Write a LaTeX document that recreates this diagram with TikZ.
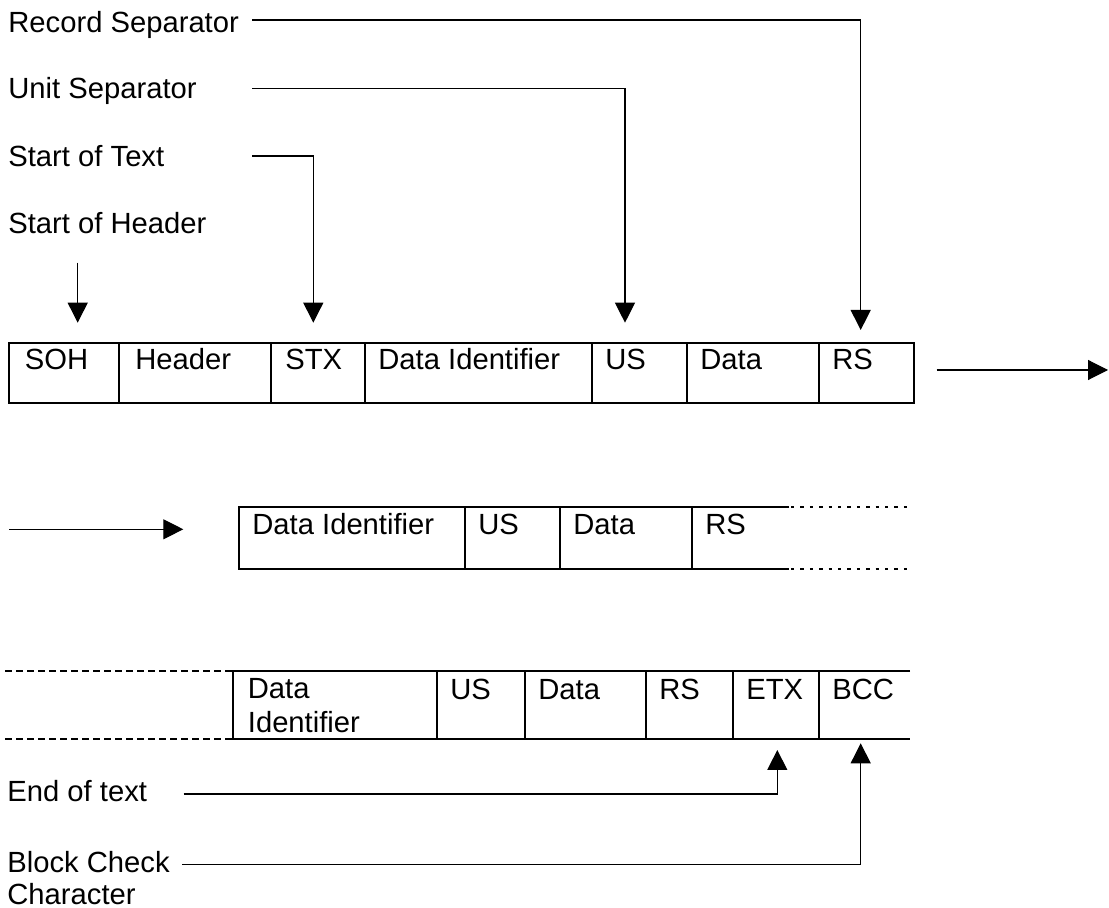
\documentclass[tikz,border=0pt]{standalone}
\usepackage{fontspec}
\setmainfont{Liberation Sans}
\usetikzlibrary{arrows.meta}

\tikzset{
  box/.style={line width=0.9pt},
  arr/.style={line width=0.55pt,-{Triangle[length=10pt,width=10pt]}},
  txt/.style={anchor=base west,inner sep=0pt,font=\fontsize{14.6}{17}\selectfont},
}

\begin{document}
\begin{tikzpicture}[x=0.5pt,y=-0.5pt]
\useasboundingbox (0,0) rectangle (1109,908);

% labels on top
\node[txt] (rsl) at (8,32.3) {Record Separator};
\node[txt] (usl) at (8,99) {Unit Separator};
\node[txt] (stl) at (8,166.7) {Start of Text};
\node[txt] (shl) at (8,233.3) {Start of Header};

% first row
\draw[box] (9.3,342.7) rectangle (914,403.3);
\foreach \x in {119,271,365.3,591.7,686.7,819}
  \draw[box] (\x,342.7) -- (\x,403.3);
\node[txt] (soh) at (24.5,369.3) {SOH};
\node[txt] (hdr) at (135,369.3) {Header};
\node[txt] (stx) at (285,369.3) {STX};
\node[txt] (did1) at (378,369.3) {Data Identifier};
\node[txt] (us1) at (605,369.3) {US};
\node[txt] (dat1) at (700,369.3) {Data};
\node[txt] (rs1) at (832,369.3) {RS};

\coordinate (rsa) at (252,20);
\coordinate (rsb) at (860.7,330);
\coordinate (usa) at (252,88.3);
\coordinate (usb) at (625,322.7);
\coordinate (sta) at (252,156);
\coordinate (stb) at (313.3,322.7);
\coordinate (sha) at (77.7,262.7);
\coordinate (shb) at (77.7,322.7);
\draw[arr] (rsa) -| (rsb);
\draw[arr] (usa) -| (usb);
\draw[arr] (sta) -| (stb);
\draw[arr] (sha) -- (shb);

\coordinate (nxa) at (936.7,370);
\coordinate (nxb) at (1108,370);
\draw[arr] (nxa) -- (nxb);

% second row
\draw[box] (789,506.7) -- (238.7,506.7) -- (238.7,568.7) -- (789,568.7);
\foreach \x in {465,560,691.7}
  \draw[box] (\x,506.7) -- (\x,568.7);
\draw[box,dash pattern=on 1.7pt off 3pt] (791,506.7) -- (912.3,506.7)
  (791,568.7) -- (912.3,568.7);
\node[txt] (did2) at (252,535) {Data Identifier};
\node[txt] (us2) at (478,535) {US};
\node[txt] (dat2) at (573,535) {Data};
\node[txt] (rs2) at (705,535) {RS};

\coordinate (cna) at (9,529.3);
\coordinate (cnb) at (183.3,529.3);
\draw[arr] (cna) -- (cnb);

% third row
\draw[box] (910,671.3) -- (233,671.3) -- (233,739.3) -- (910,739.3);
\foreach \x in {436.7,525,646,733,819}
  \draw[box] (\x,671.3) -- (\x,739.3);
\draw[box,dash pattern=on 3.5pt off 2pt] (5,671.3) -- (233,671.3)
  (5,739.3) -- (233,739.3);
\node[txt,anchor=north west,align=left] (did3) at (247.5,678.5) {Data\\Identifier};
\node[txt] (us3) at (450,699.3) {US};
\node[txt] (dat3) at (538,699.3) {Data};
\node[txt] (rs3) at (659,699.3) {RS};
\node[txt] (etx) at (746,699.3) {ETX};
\node[txt] (bcc) at (832,699.3) {BCC};

% labels at the bottom
\node[txt] (eot) at (7,801.7) {End of text};
\node[txt,anchor=north west,align=left,font=\fontsize{14.6}{16}\selectfont] (bcl) at (7,851.2) {Block Check\\Character};

\coordinate (eta) at (183.7,794);
\coordinate (etb) at (777.3,750);
\coordinate (bca) at (182,864.3);
\coordinate (bcb) at (860.7,743.3);
\draw[arr] (eta) -| (etb);
\draw[arr] (bca) -| (bcb);
\end{tikzpicture}
\end{document}
